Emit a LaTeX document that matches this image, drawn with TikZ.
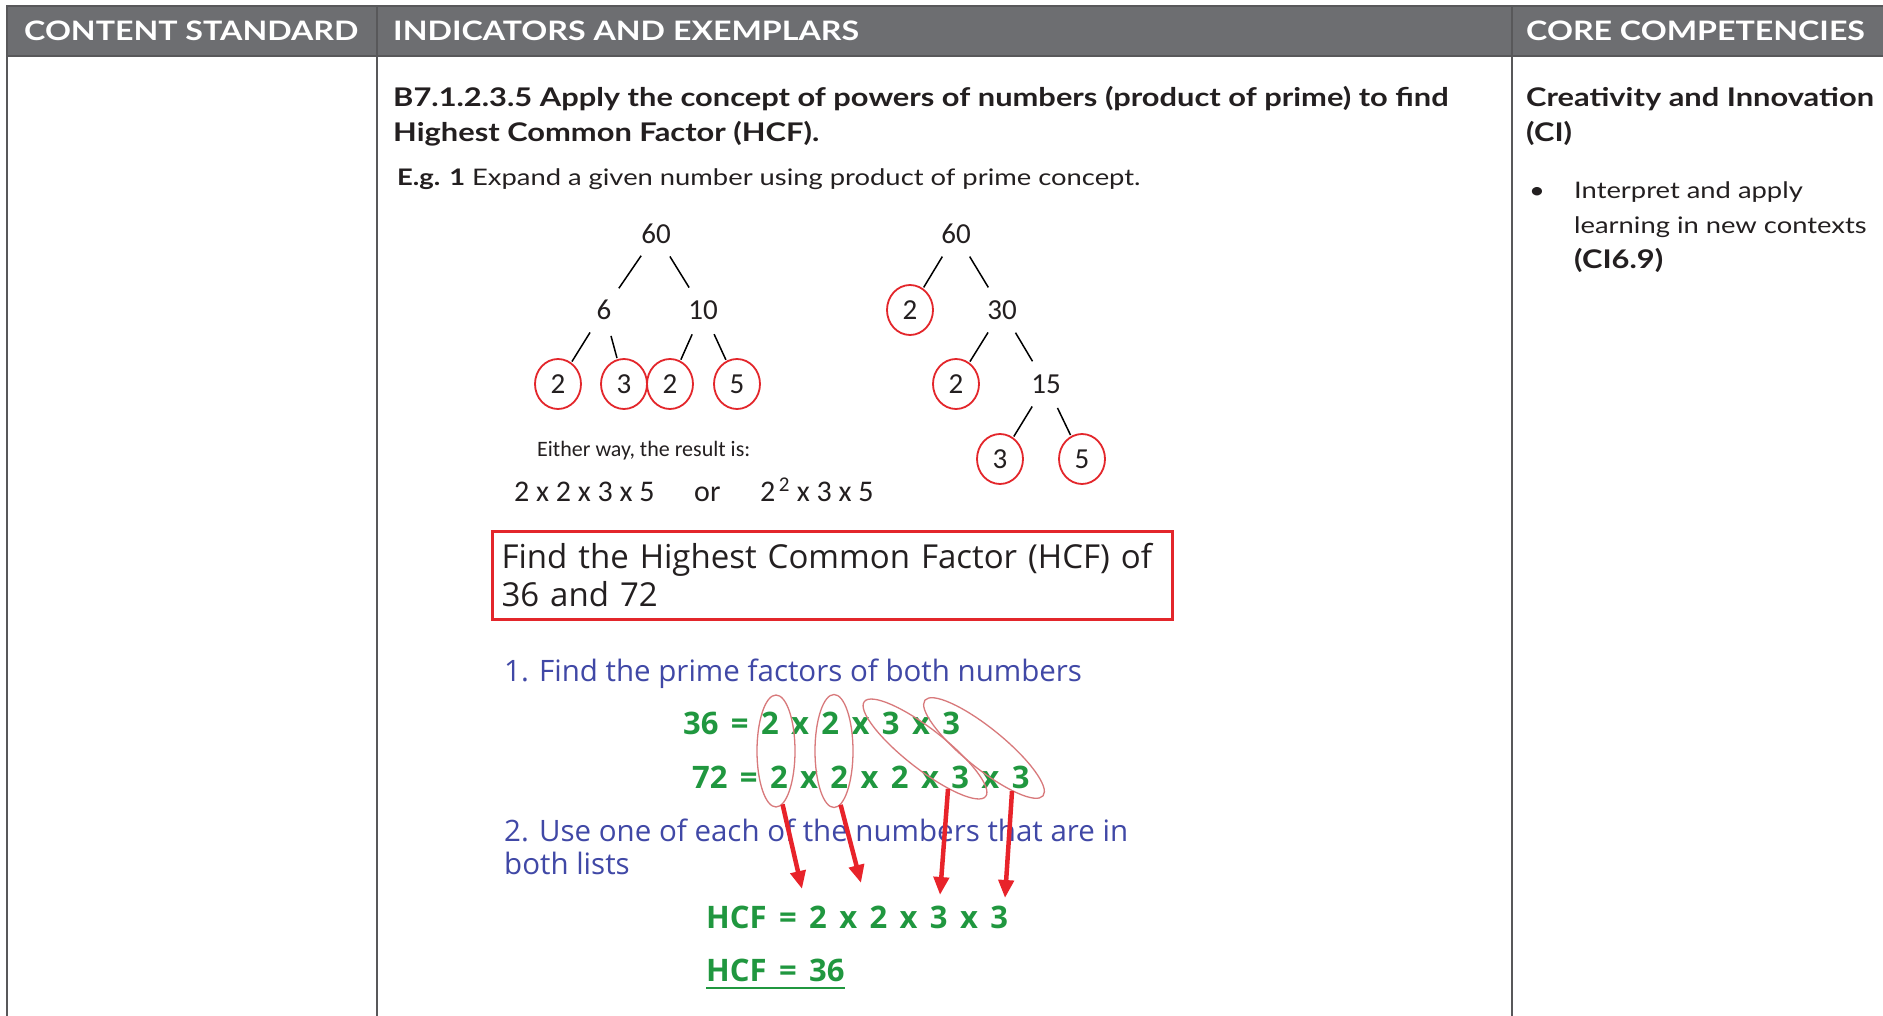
\documentclass[tikz,border=0pt]{standalone}
\usepackage{fontspec}
\setmainfont[FakeStretch=1.2]{Lato}
\newfontfamily\calibrifont{Carlito}
\newfontfamily\comicfont{Open Sans}
\usetikzlibrary{arrows.meta,shapes.geometric}

\definecolor{headgray}{HTML}{6D6E71}
\definecolor{rulegray}{HTML}{58585A}
\definecolor{inkblack}{HTML}{231F20}
\definecolor{ringred}{HTML}{E3262B}
\definecolor{loopred}{HTML}{D8797B}
\definecolor{arrowred}{HTML}{E8232A}
\definecolor{stepblue}{HTML}{4048A6}
\definecolor{factgreen}{HTML}{20973F}

\begin{document}
\begin{tikzpicture}[x=1pt, y=-1pt, inkblack,
  headtext/.style={anchor=base west, inner sep=0, text=white, font=\fontsize{26.8}{32}\selectfont\bfseries},
  gill/.style={anchor=base west, inner sep=0, font=\fontsize{22.8}{30}\selectfont},
  gillbold/.style={gill, font=\fontsize{25.7}{30}\selectfont\bfseries},
  num/.style={ellipse, minimum width=46, minimum height=50, inner sep=0, outer sep=2, font=\calibrifont\fontsize{29}{32}\selectfont},
  leaf/.style={num, draw=ringred, line width=1.8},
  branch/.style={black, line width=1.5},
  calib/.style={anchor=base west, inner sep=0, font=\calibrifont\fontsize{30}{32}\selectfont},
  steptext/.style={anchor=base west, inner sep=0, text=stepblue, font=\comicfont\fontsize{29.5}{32}\selectfont},
  facttext/.style={anchor=base west, inner sep=0, text=factgreen, font={\comicfont\bfseries\fontsize{31}{32}\selectfont\spaceskip=12.4pt\relax}},
  ringmark/.style={ellipse, draw=loopred, line width=1.3, inner sep=0},
  hcfarrow/.style={-{Triangle[length=18pt,width=15pt]}, draw=arrowred, line width=4.5}
]
\useasboundingbox (0,0) rectangle (1883,1016);
\fill[white] (0,0) rectangle (1883,1016);

% Header
\fill[headgray] (7,6) rectangle (1883,56);
\draw[rulegray, line width=2] (1883,6) -- (7,6) -- (7,1016);
\draw[rulegray, line width=2] (7,56) -- (1883,56);
\draw[rulegray, line width=1.5] (377,6) -- (377,1016);
\draw[rulegray, line width=1.5] (1512,6) -- (1512,1016);
\node[headtext] (hstd) at (24,41) {CONTENT STANDARD};
\node[headtext] (hind) at (393,41) {INDICATORS AND EXEMPLARS};
\node[headtext] (hcore) at (1526,41) {CORE COMPETENCIES};

% Indicator
\node[gillbold] (ind1) at (393,107) {B7.1.2.3.5 Apply the concept of powers of numbers (product of prime) to find};
\node[gillbold] (ind2) at (393,142) {Highest Common Factor (HCF).};
\node[gill] (eg) at (397,186) {\textbf{E.g. 1} Expand a given number using product of prime concept.};

% Core competencies
\node[gillbold] (cc1) at (1526,107) {Creativity and Innovation};
\node[gillbold] (cc2) at (1526,142) {(CI)};
\node[gill] (bul) at (1529,199) {\textbullet};
\node[gill] (cc3) at (1574,199) {Interpret and apply};
\node[gill] (cc4) at (1574,234) {learning in new contexts};
\node[gillbold] (cc5) at (1574,269) {(CI6.9)};

% Left tree
\node[num] (l60) at (656,234) {60};
\node[num] (l6) at (604,310) {6};
\node[num] (l10) at (703,310) {10};
\node[leaf] (l2a) at (558,384) {2};
\node[leaf] (l3) at (624,384) {3};
\node[leaf] (l2b) at (670,384) {2};
\node[leaf] (l5) at (737,384) {5};
\draw[branch] (l60) -- (l6);
\draw[branch] (l60) -- (l10);
\draw[branch] (l6) -- (l2a);
\draw[branch] (l6) -- (l3);
\draw[branch] (l10) -- (l2b);
\draw[branch] (l10) -- (l5);

% Right tree
\node[num] (r60) at (956,234) {60};
\node[leaf] (r2a) at (910,310) {2};
\node[num] (r30) at (1002,310) {30};
\node[leaf] (r2b) at (956,384) {2};
\node[num] (r15) at (1046,384) {15};
\node[leaf] (r3) at (1000,459) {3};
\node[leaf] (r5) at (1082,459) {5};
\draw[branch] (r60) -- (r2a);
\draw[branch] (r60) -- (r30);
\draw[branch] (r30) -- (r2b);
\draw[branch] (r30) -- (r15);
\draw[branch] (r15) -- (r3);
\draw[branch] (r15) -- (r5);

% Result
\node[calib, font=\calibrifont\fontsize{22}{24}\selectfont] (either) at (537,456) {Either way, the result is:};
\node[calib] (res1) at (514,501) {2 x 2 x 3 x 5};
\node[calib] (resor) at (694,501) {or};
\node[calib] (res2) at (760,501) {2\textsuperscript{\,2}\ x 3 x 5};

% Task
\node[draw=ringred, line width=3, anchor=north west, minimum width=680, minimum height=88,
  text width=662, inner xsep=9, inner ysep=0, align=left,
  font=\comicfont\fontsize{33}{38}\selectfont] (task) at (491,530)
  {Find the Highest Common Factor (HCF) of\\36 and 72};

% Steps
\node[steptext] (step1) at (504,681) {1. Find the prime factors of both numbers};
\node[steptext] (step2a) at (504,841) {2. Use one of each of the numbers that are in};
\node[steptext] (step2b) at (504,874) {both lists};

% Factors
\node[facttext] (f36) at (683,734) {36 = 2 x 2 x 3 x 3};
\node[facttext] (f72) at (692,788) {72 = 2 x 2 x 2 x 3 x 3};
\node[facttext] (hcf1) at (706,928) {HCF = 2 x 2 x 3 x 3};
\node[facttext] (hcf2) at (706,981) {HCF = 36};
\draw[factgreen, line width=2] ([yshift=-7pt]hcf2.base west) -- ([yshift=-7pt]hcf2.base east);

% Common factors
\node[ringmark, minimum width=38, minimum height=112] (e1) at (776,751) {};
\node[ringmark, minimum width=38, minimum height=113] (e2) at (834,751) {};
\node[ringmark, minimum width=154, minimum height=40, rotate=-38] (e3) at (925,749) {};
\node[ringmark, minimum width=152, minimum height=40, rotate=-39] (e4) at (984,748) {};

\coordinate (t1) at (802,889);
\coordinate (t2) at (861,883);
\coordinate (t3) at (940,895);
\coordinate (t4) at (1005,898);
\draw[hcfarrow] (e1.-83) -- (t1);
\draw[hcfarrow] (e2.-83) -- (t2);
\draw[hcfarrow] (e3.-22) -- (t3);
\draw[hcfarrow] (e4.-18) -- (t4);

\end{tikzpicture}
\end{document}
